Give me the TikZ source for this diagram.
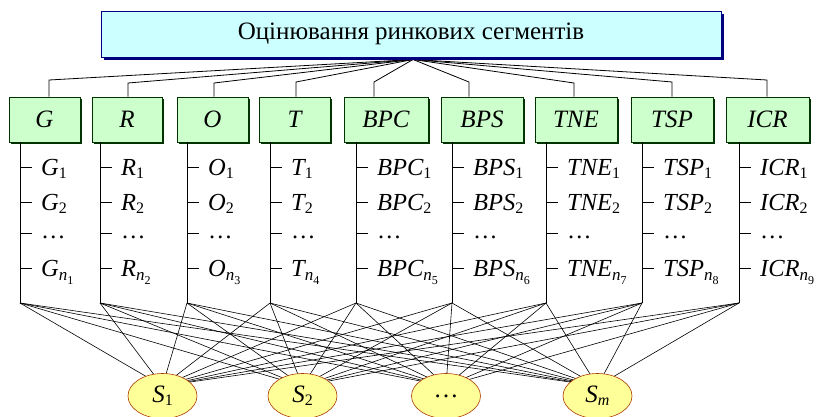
\documentclass[tikz,border=0pt]{standalone}
\usepackage{fontspec}
\setmainfont{Liberation Serif}
\usetikzlibrary{shadows,backgrounds,shapes.geometric}
\definecolor{navyc}{RGB}{0,0,128}
\definecolor{titlecyan}{RGB}{204,255,255}
\definecolor{ltgreen}{RGB}{204,255,204}
\definecolor{dkgreen}{RGB}{0,51,0}
\definecolor{segyellow}{RGB}{255,255,153}
\definecolor{segbrown}{RGB}{170,60,0}
\newcommand\lowsub[1]{\raisebox{-3pt}{\fontsize{16}{16}\selectfont\upshape #1}}
\newcommand\nsub[1]{\raisebox{-4.5pt}{\fontsize{17}{17}\selectfont\textit{n}\raisebox{-4pt}{\fontsize{12}{12}\selectfont\upshape #1}}}
\begin{document}
\begin{tikzpicture}[x=1pt,y=-1pt,
  titlebox/.style={draw=navyc, fill=titlecyan, line width=0.6pt, minimum width=620pt, minimum height=46pt, inner sep=0pt,
    font=\fontsize{25}{25}\selectfont,
    drop shadow={shadow xshift=2.5pt, shadow yshift=-2.5pt, fill=navyc, opacity=1}},
  critbox/.style={draw=dkgreen, fill=ltgreen, line width=0.6pt, minimum height=45pt, inner sep=0pt,
    font=\itshape\fontsize{25}{25}\selectfont,
    drop shadow={shadow xshift=2.2pt, shadow yshift=-2.2pt, fill=dkgreen, opacity=1}},
  segnode/.style={ellipse, draw=segbrown, fill=segyellow, line width=0.6pt, minimum width=69pt, minimum height=45pt, inner sep=0pt,
    font=\fontsize{25}{25}\selectfont},
  itemtext/.style={anchor=base west, inner sep=0pt, font=\itshape\fontsize{24.5}{24.5}\selectfont},
  link/.style={draw=black, line width=0.8pt},
  tree/.style={draw=black, line width=1pt},
  mesh/.style={draw=black, line width=0.6pt}
]
\useasboundingbox (0,0) rectangle (817,416);

\node[titlebox] (title) at (411,34) {Оцінювання ринкових сегментів};
\coordinate (hub) at (413,59.5);

\foreach \lab/\l/\r/\cx/\ey/\tx [count=\i] in {
 G/9/80/49/80/20,
 R/92/162/128/83/100,
 O/177/248/214/83/187,
 T/259/330/296/82/270,
 BPC/344/428/374/82/356,
 BPS/441/523/469/82/452,
 TNE/535/617/574/83/546,
 TSP/631/713/672/82/642,
 ICR/726/809/767/80/739}{
  \pgfmathsetmacro\w{\r-\l}
  \node[critbox, minimum width=\w pt] (b\i) at ({(\l+\r)/2},119.5) {\lab};
  \coordinate (e\i) at (\cx,\ey);
  \coordinate (t\i) at (\tx,303);
  \begin{scope}[on background layer]
    \draw[link] (hub) -- (e\i) -- (e\i |- b\i.north);
  \end{scope}
  \draw[tree] (b\i.south -| t\i) -- (t\i);
  \foreach \yy in {167,202,233,268}{\draw[tree] (\tx,\yy) -- ++(12,0);}
  \node[itemtext] (i\i a) at (\tx+21,175) {\lab\lowsub{1}};
  \node[itemtext] (i\i b) at (\tx+21,210) {\lab\lowsub{2}};
  \node[itemtext] (i\i c) at (\tx+21,238) {\upshape …};
  \node[itemtext] (i\i d) at (\tx+21,276) {\lab\nsub{\i}};
}

\node[segnode] (s1) at (162.5,396) {\textit{S}\lowsub{1}};
\node[segnode] (s2) at (302.5,396) {\textit{S}\lowsub{2}};
\node[segnode] (s3) at (446,396) {…};
\node[segnode] (s4) at (597.5,396) {\textit{S}\lowsub{\textit{m}}};

\begin{scope}[on background layer]
\foreach \i in {1,...,9}{
  \foreach \j in {1,...,4}{
    \draw[mesh] (t\i) -- ([yshift=10pt]s\j.center);
  }
}
\end{scope}
\end{tikzpicture}
\end{document}
